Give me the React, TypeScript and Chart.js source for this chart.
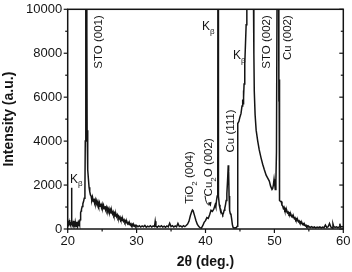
import { useEffect, useRef } from 'react';
import { Chart, registerables } from 'chart.js';

Chart.register(...registerables);

// 2θ positions (deg.)
const twoTheta = [
  20.0, 20.05, 20.1, 20.15, 20.2, 20.25, 20.3, 20.35, 20.4, 20.45, 20.5, 20.55, 20.58, 20.61, 20.65, 20.7,
  20.75, 20.8, 20.85, 20.9, 20.95, 21.0, 21.05, 21.1, 21.15, 21.2, 21.25, 21.3, 21.35, 21.4, 21.45, 21.5,
  21.55, 21.6, 21.65, 21.7, 21.75, 21.8, 21.85, 21.9, 21.95, 22.0, 22.1, 22.2, 22.3, 22.4, 22.5, 22.55,
  22.6, 22.65, 22.72, 22.78, 22.82, 22.88, 22.93, 23.0, 23.1, 23.2, 23.3,
  23.4, 23.5, 23.6, 23.7, 23.8, 23.9, 24.0, 24.1, 24.2, 24.3, 24.4, 24.5, 24.6, 24.7, 24.8, 24.9,
  25.0, 25.1, 25.2, 25.3, 25.4, 25.5, 25.6, 25.7, 25.8, 25.9, 26.0, 26.1, 26.2, 26.3, 26.4, 26.5,
  26.6, 26.7, 26.8, 26.9, 27.0, 27.1, 27.2, 27.3, 27.4, 27.5, 27.6, 27.7, 27.8, 27.9, 28.0, 28.1,
  28.2, 28.3, 28.4, 28.5, 28.6, 28.7, 28.8, 28.9, 29.0, 29.1, 29.2, 29.3, 29.4, 29.5, 29.6, 29.7,
  29.8, 29.9, 30.0,
  30.2, 30.4, 30.6, 30.8, 31.0, 31.2, 31.4, 31.6, 31.8, 32.0, 32.2, 32.4, 32.6, 32.7, 32.8, 33.0,
  33.2, 33.4, 33.6, 33.8, 34.0, 34.2, 34.4, 34.6, 34.8, 35.0, 35.2, 35.4, 35.6, 35.8, 36.0, 36.2,
  36.4, 36.6, 36.8, 37.0, 37.2, 37.4, 37.6, 37.8, 38.0, 38.1, 38.2, 38.4, 38.6, 38.8, 39.0, 39.2,
  39.4, 39.6, 39.8, 40.0, 40.2, 40.4, 40.6, 40.8, 41.0, 41.2, 41.4, 41.5, 41.6, 41.7, 41.78, 41.82,
  41.86, 41.9, 42.0, 42.1, 42.2, 42.3, 42.4, 42.5, 42.6, 42.7, 42.8, 42.9, 43.0, 43.1, 43.2, 43.3,
  43.36, 43.42, 43.5, 43.6, 43.7, 43.8, 43.9, 44.0, 44.15, 44.3, 44.45, 44.6, 44.66, 44.68, 44.7, 44.85,
  45.0, 45.15, 45.3, 45.4, 45.45, 45.5, 45.55, 45.6, 45.7, 45.8, 45.9, 46.0, 46.2, 46.4, 46.5, 46.6,
  46.8, 46.95, 47.02, 47.08, 47.2, 47.35, 47.58, 47.8, 48.06, 48.3, 48.53, 48.8, 49.05, 49.26, 49.45, 49.65,
  49.75, 49.85, 49.95, 50.05, 50.13, 50.22, 50.3, 50.4, 50.5, 50.58, 50.64, 50.66, 50.68, 50.71, 50.78, 50.9,
  51.0, 51.1, 51.2, 51.3, 51.4, 51.5, 51.6, 51.7, 51.8, 51.9, 52.0, 52.1, 52.2, 52.3, 52.4, 52.5,
  52.6, 52.7, 52.8, 52.9, 53.0, 53.1, 53.2, 53.3, 53.4, 53.5, 53.6, 53.7, 53.8, 53.9, 54.0, 54.1,
  54.2, 54.3, 54.4, 54.5, 54.6, 54.7, 54.8, 54.9, 55.0, 55.2, 55.4, 55.6, 55.8, 56.0, 56.2, 56.4,
  56.6, 56.8, 57.0, 57.2, 57.4, 57.6, 57.8, 58.0, 58.2, 58.4, 58.5, 58.6, 58.8, 59.0, 59.2, 59.4,
  59.5, 59.6, 59.8, 60.0,
];

// Intensity (a.u.)
const intensity = [
  300, 150, 380, 200, 320, 180, 400, 220, 300, 160, 280, 350, 1880, 300, 200, 340,
  150, 280, 200, 360, 170, 300, 140, 320, 200, 270, 120, 330, 180, 290, 150, 260,
  350, 130, 280, 200, 320, 420, 600, 750, 820, 900, 1020, 1150, 1250, 1400, 1800, 4000,
  13000, 20000, 14000, 9000, 4500, 4200, 2700, 2300, 1900, 1700, 1550,
  1500, 1320, 1450, 1250, 1380, 1180, 1320, 1150, 1280, 1100, 1230, 1080, 1200, 1030, 1150, 980,
  1120, 960, 1080, 920, 1040, 880, 990, 850, 950, 800, 920, 760, 870, 730, 820, 690,
  780, 640, 720, 590, 680, 560, 640, 510, 580, 470, 540, 430, 490, 390, 450, 350,
  410, 310, 370, 280, 330, 240, 290, 210, 260, 180, 230, 160, 210, 140, 190, 130,
  170, 110, 160,
  100, 150, 90, 140, 100, 160, 80, 130, 100, 150, 90, 140, 110, 350, 120, 80,
  140, 100, 150, 90, 130, 80, 140, 100, 260, 110, 150, 90, 140, 100, 250, 110,
  140, 90, 150, 110, 160, 220, 350, 600, 800, 860, 830, 620, 400, 220, 120, 60,
  40, 150, 300, 380, 520, 480, 650, 850, 800, 900, 1100, 1000, 1300, 1500, 1600, 25000,
  1800, 1500, 1100, 950, 900, 750, 700, 650, 720, 850, 950, 1100, 1300, 1600, 2200, 2900,
  2600, 1500, 850, 700, 650, 450, 200, 80, 40, 60, 50, 120, 300, 2500, 4800, 4900,
  5100, 5250, 5600, 5900, 5700, 6300, 6000, 6600, 7500, 8400, 9300, 10200, 16000, 40000, 50000, 40000,
  20000, 11000, 8000, 6270, 5200, 4500, 4000, 3600, 3240, 2950, 2710, 2450, 2300, 2180, 1950, 1800,
  1850, 2000, 2270, 2000, 1800, 2200, 3500, 12000, 30000, 15000, 7400, 5800, 6800, 1400, 1300, 1250,
  1250, 1080, 1050, 940, 990, 860, 900, 790, 840, 730, 770, 680, 720, 620, 660, 570,
  610, 520, 560, 470, 510, 420, 460, 380, 410, 330, 370, 290, 320, 250, 280, 210,
  240, 170, 200, 140, 170, 110, 140, 90, 120, 70, 110, 60, 100, 50, 90, 60,
  100, 50, 90, 60, 180, 70, 100, 250, 90, 50, 230, 120, 70, 100, 60, 90,
  240, 80, 110, 90,
];

const xTickValues = [20, 30, 40, 50, 60];
const yTickValues = [0, 2000, 4000, 6000, 8000, 10000];

const xAxisTitle = '2θ (deg.)';
const yAxisTitle = 'Intensity (a.u.)';

// Peak annotations: [text, isSubscript] pieces, anchored in data coordinates
const annotations: { parts: [string, number][]; x: number; y: number; vertical: boolean }[] = [
  { parts: [['STO (001)', 0]], x: 24.4, y: 9730, vertical: true },
  { parts: [['STO (002)', 0]], x: 48.78, y: 9730, vertical: true },
  { parts: [['Cu (002)', 0]], x: 51.8, y: 9730, vertical: true },
  { parts: [['Cu (111)', 0]], x: 43.55, y: 5440, vertical: true },
  { parts: [['TiO', 0], ['2', 1], [' (004)', 0]], x: 37.65, y: 3540, vertical: true },
  { parts: [['Cu', 0], ['2', 1], ['O (002)', 0]], x: 40.36, y: 4130, vertical: true },
  { parts: [['K', 0], ['β', 1]], x: 20.33, y: 2100, vertical: false },
  { parts: [['K', 0], ['β', 1]], x: 39.49, y: 9050, vertical: false },
  { parts: [['K', 0], ['β', 1]], x: 43.99, y: 7740, vertical: false },
];
const arrowFrom = { x: 39.93, y: 1510 };
const arrowTo = { x: 40.76, y: 1015 };

const FAMILY = '"Liberation Sans", Arial, Helvetica, sans-serif';
const INK = '#141414';

function drawParts(ctx: CanvasRenderingContext2D, parts: [string, number][], px: number, py: number, vertical: boolean, size: number) {
  const fMain = `${size}px ${FAMILY}`;
  const fSub = `${Math.round(size * 0.68)}px ${FAMILY}`;
  ctx.save();
  ctx.translate(px, py);
  if (vertical) ctx.rotate(-Math.PI / 2);
  ctx.textBaseline = 'alphabetic';
  ctx.textAlign = 'left';
  ctx.fillStyle = INK;
  let total = 0;
  parts.forEach(([t, s]) => {
    ctx.font = s ? fSub : fMain;
    total += ctx.measureText(t).width;
  });
  let u = vertical ? -total : 0;
  const base = vertical ? size * 0.36 : 0;
  parts.forEach(([t, s]) => {
    ctx.font = s ? fSub : fMain;
    ctx.fillText(t, u, base + (s ? size * 0.3 : 0));
    u += ctx.measureText(t).width;
  });
  ctx.restore();
}

const decorPlugin = {
  id: 'decor',
  afterDatasetsDraw(chart: any) {
    const { ctx, chartArea: a, scales } = chart;
    const x = scales.x;
    const y = scales.y;
    ctx.save();
    ctx.strokeStyle = INK;
    const seg = (x1: number, y1: number, x2: number, y2: number) => {
      ctx.beginPath();
      ctx.moveTo(x1, y1);
      ctx.lineTo(x2, y2);
      ctx.stroke();
    };
    ctx.lineWidth = 1.2;
    for (let v = 0; v <= 10000; v += 1000) {
      const py = y.getPixelForValue(v);
      const len = v % 2000 === 0 ? 4 : 2.5;
      seg(a.left - len, py, a.left, py);
      seg(a.right - len, py, a.right, py);
    }
    for (let v = 20; v <= 60; v += 5) {
      const px = x.getPixelForValue(v);
      const len = v % 10 === 0 ? 4 : 2.5;
      seg(px, a.bottom, px, a.bottom + len);
    }
    ctx.lineWidth = 1.5;
    ctx.strokeRect(a.left, a.top, a.right - a.left, a.bottom - a.top);

    annotations.forEach((an) => {
      drawParts(ctx, an.parts, x.getPixelForValue(an.x), y.getPixelForValue(an.y), an.vertical, an.vertical ? 11.5 : 12);
    });

    // arrow for Cu2O
    const ax1 = x.getPixelForValue(arrowFrom.x);
    const ay1 = y.getPixelForValue(arrowFrom.y);
    const ax2 = x.getPixelForValue(arrowTo.x);
    const ay2 = y.getPixelForValue(arrowTo.y);
    ctx.lineWidth = 1;
    ctx.beginPath();
    ctx.moveTo(ax1, ay1);
    ctx.quadraticCurveTo(ax1 + 1, ay2 - 2, ax2 - 1.5, ay2 - 1.5);
    ctx.stroke();
    const ang = Math.atan2(ay2 - ay1, ax2 - ax1) + 0.25;
    ctx.fillStyle = INK;
    ctx.beginPath();
    ctx.moveTo(ax2, ay2);
    ctx.lineTo(ax2 - 5 * Math.cos(ang - 0.4), ay2 - 5 * Math.sin(ang - 0.4));
    ctx.lineTo(ax2 - 5 * Math.cos(ang + 0.4), ay2 - 5 * Math.sin(ang + 0.4));
    ctx.closePath();
    ctx.fill();
    ctx.restore();
  },
};

export default function App() {
  const ref = useRef<HTMLCanvasElement | null>(null);
  useEffect(() => {
    if (!ref.current) return;
    const chart = new Chart(ref.current, {
      type: 'line',
      data: {
        datasets: [
          {
            data: twoTheta.map((t, i) => ({ x: t, y: intensity[i] })),
            borderColor: INK,
            borderWidth: 1.5,
            pointRadius: 0,
            tension: 0,
            fill: false,
          },
        ],
      },
      options: {
        animation: false,
        responsive: true,
        maintainAspectRatio: false,
        layout: { padding: { left: 0, right: 8.7, top: 7, bottom: 0 } },
        plugins: { legend: { display: false }, tooltip: { enabled: false } },
        events: [],
        scales: {
          x: {
            type: 'linear',
            min: 20,
            max: 60,
            afterFit: (s: any) => { s.height = 43; },
            afterBuildTicks: (s: any) => { s.ticks = xTickValues.map((v) => ({ value: v })); },
            grid: { display: false, drawTicks: true, tickLength: 4 },
            border: { display: false },
            ticks: { color: INK, padding: 1, font: { family: FAMILY, size: 13 }, callback: (v: any) => String(v), maxRotation: 0 },
            title: { display: true, text: xAxisTitle, color: INK, font: { family: FAMILY, size: 14, weight: 'bold' }, padding: { top: 0, bottom: 1 } },
          },
          y: {
            type: 'linear',
            min: 0,
            max: 10000,
            afterFit: (s: any) => { s.width = 67.7; },
            afterBuildTicks: (s: any) => { s.ticks = yTickValues.map((v) => ({ value: v })); },
            grid: { display: false, drawTicks: true, tickLength: 4 },
            border: { display: false },
            ticks: { color: INK, padding: 1.5, font: { family: FAMILY, size: 13 }, callback: (v: any) => String(v) },
            title: { display: true, text: yAxisTitle, color: INK, font: { family: FAMILY, size: 14, weight: 'bold' }, padding: { top: 1, bottom: 0 } },
          },
        },
      },
      plugins: [decorPlugin],
    } as any);
    return () => chart.destroy();
  }, []);
  return (
    <div style={{ position: 'fixed', left: 0, top: 0, width: 352, height: 272, background: '#fff' }}>
      <canvas ref={ref} />
    </div>
  );
}
